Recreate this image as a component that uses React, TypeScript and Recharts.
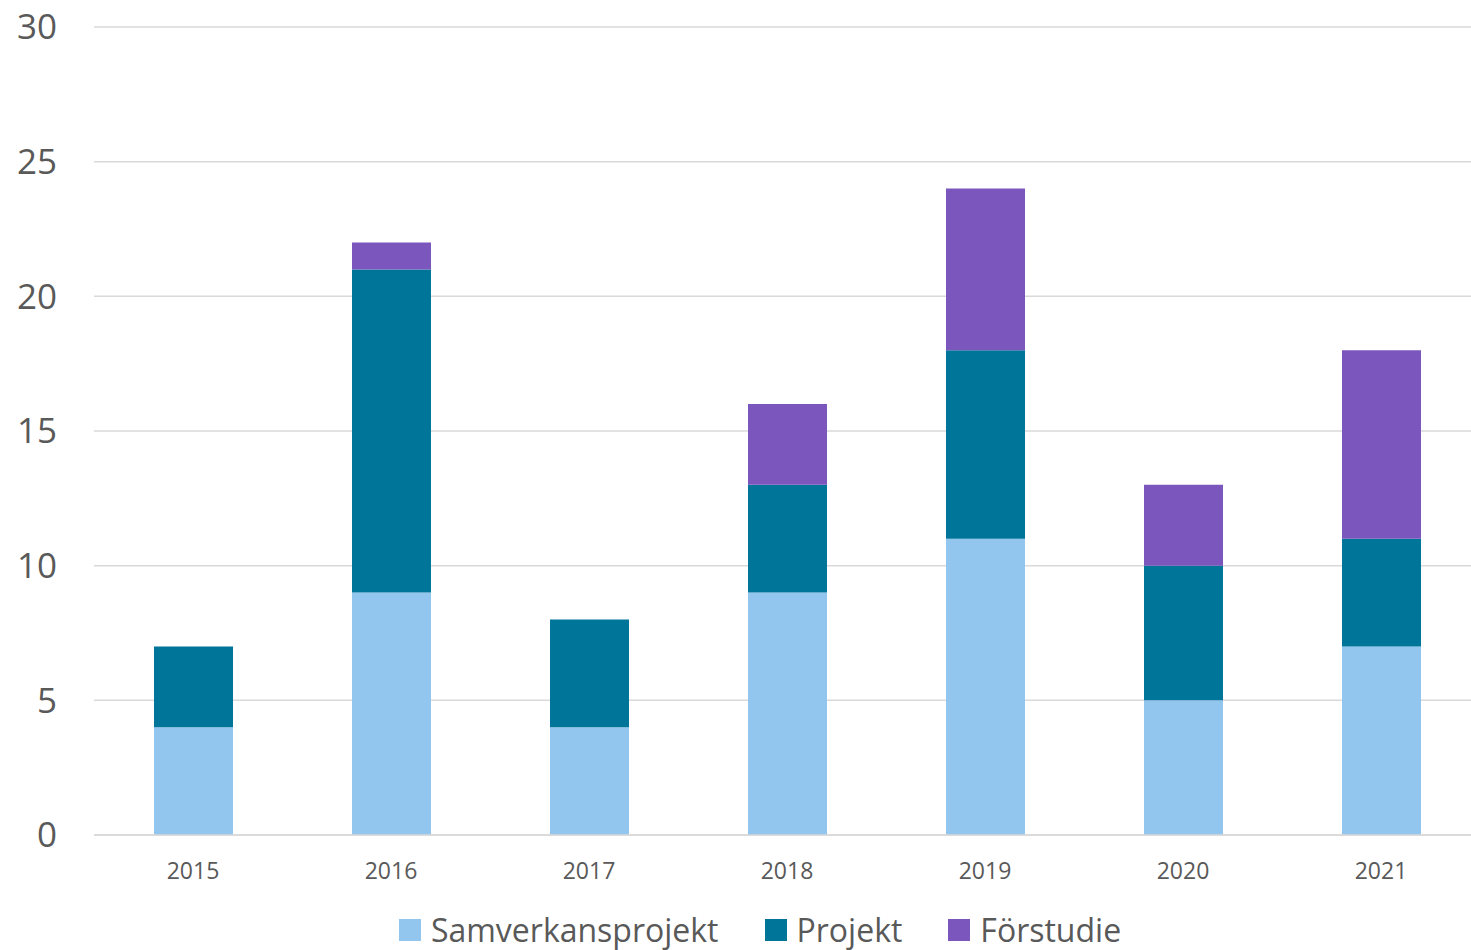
import React from 'react'
import { Bar, BarChart, CartesianGrid, Legend, XAxis, YAxis } from 'recharts'

const years = ['2015', '2016', '2017', '2018', '2019', '2020', '2021']
const samverkansprojekt = [4, 9, 4, 9, 11, 5, 7]
const projekt = [3, 12, 4, 4, 7, 5, 4]
const forstudie = [0, 1, 0, 3, 6, 3, 7]
const yTicks = [0, 5, 10, 15, 20, 25, 30]

const series = [
  { key: 'samverkansprojekt', name: 'Samverkansprojekt', color: '#93C6EE' },
  { key: 'projekt', name: 'Projekt', color: '#00759A' },
  { key: 'forstudie', name: 'Förstudie', color: '#7B56BD' },
]

const data = years.map((year, i) => ({
  year,
  samverkansprojekt: samverkansprojekt[i],
  projekt: projekt[i],
  forstudie: forstudie[i],
}))

const font = '"Open Sans", sans-serif'
const textColor = '#595959'

function LegendContent() {
  return (
    <div
      style={{
        display: 'flex',
        justifyContent: 'center',
        alignItems: 'center',
        paddingLeft: 40,
        height: 40,
        lineHeight: '40px',
        fontFamily: font,
        fontSize: 32,
        color: textColor,
        whiteSpace: 'nowrap',
      }}
    >
      {series.map((s, i) => (
        <div
          key={s.key}
          style={{ display: 'flex', alignItems: 'center', marginLeft: i === 0 ? 0 : 46 }}
        >
          <span style={{ width: 22, height: 22, background: s.color, marginRight: 10 }} />
          <span>{s.name}</span>
        </div>
      ))}
    </div>
  )
}

export default function App() {
  return (
    <div
      style={{
        position: 'absolute',
        left: 0,
        top: 0,
        width: 1471,
        height: 950,
        overflow: 'hidden',
        background: '#fff',
      }}
    >
      <BarChart
        width={1480}
        height={950}
        data={data}
        margin={{ top: 27, right: 0, left: 0, bottom: 35 }}
      >
        <CartesianGrid vertical={false} stroke="#d9d9d9" strokeWidth={1.5} />
        <XAxis
          dataKey="year"
          axisLine={{ stroke: '#d9d9d9', strokeWidth: 1.5 }}
          tickLine={false}
          tickSize={0}
          tickMargin={28}
          height={40}
          tick={{ fill: textColor, fontSize: 23, fontFamily: font }}
        />
        <YAxis
          width={94}
          domain={[0, 30]}
          ticks={yTicks}
          axisLine={false}
          tickLine={false}
          tickSize={0}
          tickMargin={37}
          tick={{ fill: textColor, fontSize: 35, fontFamily: font }}
        />
        <Legend
          verticalAlign="bottom"
          content={<LegendContent />}
          wrapperStyle={{ left: 0, width: 1480, top: 910, height: 40 }}
        />
        {series.map((s) => (
          <Bar
            key={s.key}
            dataKey={s.key}
            name={s.name}
            stackId="a"
            fill={s.color}
            barSize={79}
            isAnimationActive={false}
          />
        ))}
      </BarChart>
    </div>
  )
}
